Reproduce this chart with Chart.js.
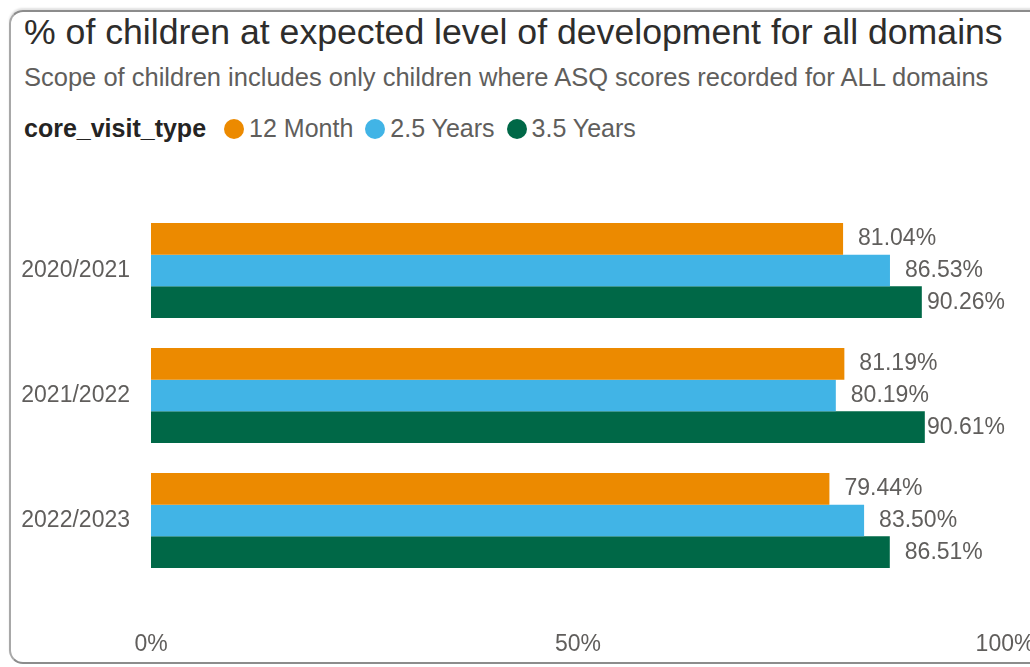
<!DOCTYPE html>
<html>
<head>
<meta charset="utf-8">
<script src="https://cdn.jsdelivr.net/npm/chart.js@4.4.0/dist/chart.umd.min.js"></script>
<style>
  html, body { margin: 0; padding: 0; background: #fff; overflow: hidden; }
  body { width: 1030px; height: 667px; position: relative; font-family: "Liberation Sans", Arial, sans-serif; }
  .card {
    position: absolute; left: 9px; top: 10px; width: 1100px; height: 650px;
    border: 2px solid #8c8c8c; border-left-color: #a8a8a8; border-radius: 14px;
    box-shadow: 0 -2px 2px #e2e2e2;
  }
  .txt { position: absolute; left: 24px; white-space: nowrap; }
  .title { top: 15px; font-size: 35.65px; line-height: 35px; color: #2e2d2c; }
  .subtitle { top: 65px; font-size: 25.5px; line-height: 25px; color: #605e5c; }
  .legend { top: 116px; font-size: 25px; line-height: 25px; color: #605e5c; display: flex; align-items: center; }
  .legend b { color: #252423; margin-right: 18px; }
  .legend .dot { width: 20px; height: 20px; border-radius: 50%; margin-right: 5px; }
  .legend .item { display: flex; align-items: center; margin-right: 12px; }
  canvas { position: absolute; left: 0; top: 0; }
</style>
</head>
<body>
<div class="card"></div>
<div class="txt title">% of children at expected level of development for all domains</div>
<div class="txt subtitle">Scope of children includes only children where ASQ scores recorded for ALL domains</div>
<div class="txt legend" id="legend"><b>core_visit_type</b></div>
<canvas id="chart" width="1030" height="667"></canvas>
<script>
const categories = ['2020/2021', '2021/2022', '2022/2023'];
const seriesNames = ['12 Month', '2.5 Years', '3.5 Years'];
const month12 = [81.04, 81.19, 79.44];
const years25 = [86.53, 80.19, 83.50];
const years35 = [90.26, 90.61, 86.51];
const xTicks = [0, 50, 100];
const seriesColors = ['#ec8a00', '#41b4e6', '#006847'];

// legend in html, built from the series
const legend = document.getElementById('legend');
seriesNames.forEach((name, i) => {
    const item = document.createElement('span');
    item.className = 'item';
    item.innerHTML = '<span class="dot" style="background:' + seriesColors[i] + '"></span>' + name;
    legend.appendChild(item);
});

const labelFont = '23px "Liberation Sans", Arial, sans-serif';

const barLabels = {
    id: 'barLabels',
    afterDatasetsDraw(chart) {
        const ctx = chart.ctx;
        const area = chart.chartArea;
        ctx.save();
        ctx.font = labelFont;
        ctx.fillStyle = '#605e5c';
        ctx.textBaseline = 'middle';
        ctx.textAlign = 'left';
        chart.data.datasets.forEach((ds, di) => {
            chart.getDatasetMeta(di).data.forEach((bar, i) => {
                const text = ds.data[i].toFixed(2) + '%';
                const w = ctx.measureText(text).width;
                const x = Math.min(bar.x + 15, area.right - w);
                ctx.fillText(text, x, bar.y);
            });
        });
        ctx.restore();
    }
};

const datasets = [month12, years25, years35].map((values, i) => ({
    label: seriesNames[i],
    data: values,
    backgroundColor: seriesColors[i],
    barPercentage: 1.0,
    categoryPercentage: 0.76
}));

new Chart(document.getElementById('chart'), {
    type: 'bar',
    data: { labels: categories, datasets: datasets },
    options: {
        indexAxis: 'y',
        responsive: false,
        animation: false,
        layout: { padding: { top: 208, right: 25, left: 0, bottom: 0 } },
        plugins: {
            legend: { display: false },
            tooltip: { enabled: false }
        },
        scales: {
            x: {
                min: 0,
                max: 100,
                grid: { display: false, drawTicks: false },
                border: { display: false },
                afterBuildTicks: (scale) => { scale.ticks = xTicks.map(v => ({ value: v })); },
                afterFit: (scale) => {
                    scale.height = 667 - 583;
                    scale.paddingLeft = 0;
                    scale.paddingRight = 0;
                },
                ticks: {
                    padding: 48,
                    color: '#605e5c',
                    font: { family: '"Liberation Sans", Arial, sans-serif', size: 23 },
                    callback: (v) => v + '%'
                }
            },
            y: {
                grid: { display: false, drawTicks: false },
                border: { display: false },
                afterFit: (scale) => { scale.width = 151; },
                ticks: {
                    padding: 21,
                    color: '#605e5c',
                    font: { family: '"Liberation Sans", Arial, sans-serif', size: 23 }
                }
            }
        }
    },
    plugins: [barLabels]
});
</script>
</body>
</html>
